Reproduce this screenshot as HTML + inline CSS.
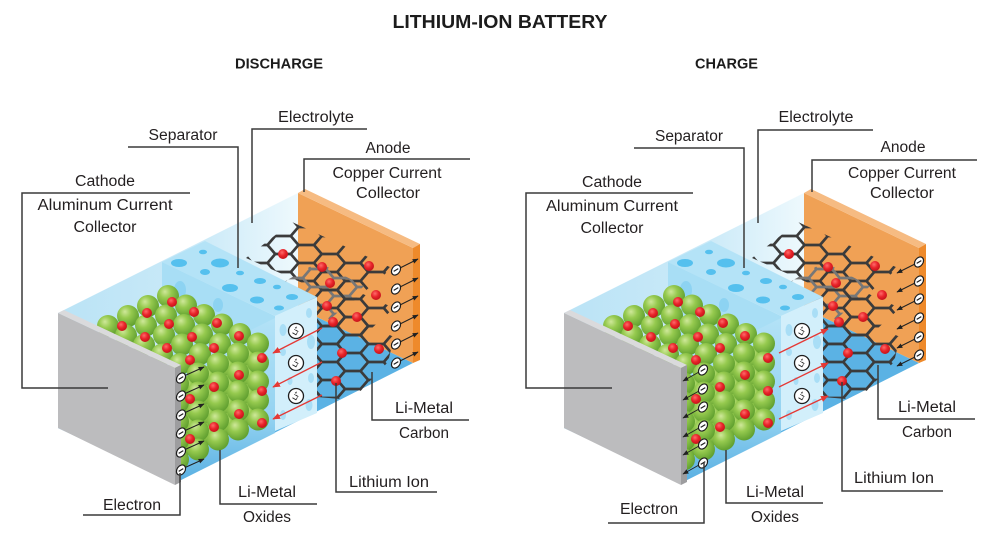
<!DOCTYPE html>
<html>
<head>
<meta charset="utf-8">
<style>
  html,body{margin:0;padding:0;background:#fff;}
  svg{display:block;}
  .lbl{font-family:"Liberation Sans",Arial,sans-serif;font-size:15.5px;fill:#231f20;text-anchor:middle;}
  .hd{font-family:"Liberation Sans",Arial,sans-serif;font-weight:bold;fill:#1c1c1c;text-anchor:middle;}
  .ld{fill:none;stroke:#3a3a3a;stroke-width:1.5;}
</style>
</head>
<body>
<svg width="1000" height="555" viewBox="0 0 1000 555" xmlns="http://www.w3.org/2000/svg">
<defs>
  <linearGradient id="gWall" gradientUnits="userSpaceOnUse" x1="58" y1="0" x2="298" y2="0">
    <stop offset="0" stop-color="#bae3f6"/>
    <stop offset="0.6" stop-color="#cbeaf8"/>
    <stop offset="1" stop-color="#eef9fd"/>
  </linearGradient>
  <linearGradient id="gRF" x1="0" y1="0" x2="0" y2="1">
    <stop offset="0" stop-color="#b3e2f7"/>
    <stop offset="0.6" stop-color="#94d3f1"/>
    <stop offset="1" stop-color="#58afe2"/>
  </linearGradient>
  <radialGradient id="gBall" cx="0.4" cy="0.36" r="0.68" fx="0.36" fy="0.3">
    <stop offset="0" stop-color="#cfe89a"/>
    <stop offset="0.4" stop-color="#96ca4f"/>
    <stop offset="1" stop-color="#5c9c2d"/>
  </radialGradient>
  <radialGradient id="gRed" cx="0.4" cy="0.35" r="0.7">
    <stop offset="0" stop-color="#ff6a6a"/>
    <stop offset="0.5" stop-color="#e8242a"/>
    <stop offset="1" stop-color="#c01018"/>
  </radialGradient>
  <pattern id="hexD" patternUnits="userSpaceOnUse" width="46.5" height="18" x="4" y="2">
    <path d="M0,0H7.75L15.5,9L7.75,18H0M15.5,9H31L38.75,0H46.5M31,9L38.75,18H46.5" fill="none" stroke="#3b3b3b" stroke-width="2.7"/>
  </pattern>
  <pattern id="hexG" patternUnits="userSpaceOnUse" width="46.5" height="18" x="16" y="8">
    <path d="M0,0H7.75L15.5,9L7.75,18H0M15.5,9H31L38.75,0H46.5M31,9L38.75,18H46.5" fill="none" stroke="#777" stroke-width="2.7"/>
  </pattern>
  <marker id="ak" viewBox="0 0 10 10" refX="9" refY="5" markerWidth="6" markerHeight="6" orient="auto">
    <path d="M0,1 L10,5 L0,9 z" fill="#222"/>
  </marker>
  <marker id="ar" viewBox="0 0 10 10" refX="9" refY="5" markerWidth="6" markerHeight="6" orient="auto">
    <path d="M0,1 L10,5 L0,9 z" fill="#e53935"/>
  </marker>
  <circle id="b" r="11" fill="url(#gBall)"/>
  <circle id="r" r="5" fill="url(#gRed)"/>
  <g id="el">
    <ellipse rx="4" ry="5.5" fill="#fff" stroke="#1e1e1e" stroke-width="1.2" transform="rotate(35)"/>
    <line x1="-2.3" y1="1.4" x2="2.3" y2="-1.4" stroke="#1e1e1e" stroke-width="1.2"/>
  </g>
  <g id="li">
    <circle r="7.5" fill="#fff" stroke="#1e1e1e" stroke-width="1.3"/>
    <text transform="rotate(-60)" x="0" y="2.3" text-anchor="middle" font-family="Liberation Sans, Arial, sans-serif" font-size="6.5" font-weight="bold" fill="#1e1e1e">Li<tspan font-size="4.5" dy="-2.5">+</tspan></text>
  </g>

  <g id="core">
    <!-- left inner wall -->
    <polygon points="58,313 298,193 298,308 58,428" fill="url(#gWall)"/>
    <!-- floor -->
    <polygon points="58,428 298,308 413,363 175,483" fill="#5bb2e4"/>
    <!-- orange copper collector -->
    <polygon points="298,193 413,248 413,363 298,308" fill="#f0a155"/>
    <polygon points="298,193 305,189 420,244 413,248" fill="#f6bb82"/>
    <polygon points="413,248 420,244 420,360 413,363" fill="#ee8a2b"/>
    <!-- graphene sheets -->
    <polygon points="246,258 292,222 392,268 350,304" fill="url(#hexD)"/>
    <polygon points="284,282 318,262 364,286 330,320" fill="url(#hexG)"/>
    <polygon points="303,300 334,281 394,308 350,348 317,342" fill="url(#hexD)"/>
    <polygon points="317,328 346,315 394,337 388,362 352,400 317,397" fill="url(#hexD)"/>
    <!-- anode Li dots -->
    <use href="#r" x="283" y="254"/><use href="#r" x="322" y="267"/><use href="#r" x="369" y="266"/>
    <use href="#r" x="330" y="283"/><use href="#r" x="376" y="295"/><use href="#r" x="327" y="306"/>
    <use href="#r" x="357" y="317"/><use href="#r" x="333" y="322"/><use href="#r" x="342" y="353"/>
    <use href="#r" x="379" y="349"/><use href="#r" x="336" y="381"/>
    <!-- separator -->
    <polygon points="162,262 275,316 275,431 162,377" fill="#a8def5"/>
    <polygon points="162,262 205,241 317,297 275,316" fill="#b4e3f7"/>
    <polygon points="275,316 317,297 317,413 275,431" fill="#d2effb"/>
    <g fill="#55c0ee">
      <ellipse cx="179" cy="263" rx="8" ry="4"/>
      <ellipse cx="203" cy="252" rx="4" ry="2.3"/>
      <ellipse cx="220" cy="263" rx="9" ry="4.5"/>
      <ellipse cx="205" cy="272" rx="5" ry="3"/>
      <ellipse cx="240" cy="273" rx="4" ry="2.3"/>
      <ellipse cx="230" cy="288" rx="8" ry="4"/>
      <ellipse cx="260" cy="281" rx="6" ry="3"/>
      <ellipse cx="257" cy="300" rx="7" ry="3.5"/>
      <ellipse cx="277" cy="287" rx="4" ry="2.3"/>
      <ellipse cx="279" cy="308" rx="5" ry="2.5"/>
      <ellipse cx="292" cy="297" rx="6" ry="3"/>
    </g>
    <g fill="#8dd3f2">
      <ellipse cx="180" cy="290" rx="6" ry="9"/>
      <ellipse cx="218" cy="305" rx="5" ry="7"/>
    </g>
    <g fill="#a9def6">
      <ellipse cx="283" cy="330" rx="3.5" ry="6"/>
      <ellipse cx="309" cy="313" rx="3" ry="5"/>
      <ellipse cx="283" cy="352" rx="3" ry="4"/>
      <ellipse cx="311" cy="342" rx="4" ry="7"/>
      <ellipse cx="311" cy="378" rx="3" ry="5"/>
      <ellipse cx="290" cy="381" rx="2.5" ry="4"/>
      <ellipse cx="283" cy="415" rx="3" ry="5"/>
      <ellipse cx="309" cy="405" rx="3.5" ry="6"/>
    </g>
    <!-- cathode right face -->
    <polygon points="175,368 275,318 275,433 175,483" fill="url(#gRF)"/>
    <!-- balls: top layer -->
    <use href="#b" x="168" y="296"/><use href="#b" x="186" y="305.5"/><use href="#b" x="204" y="315"/><use href="#b" x="222" y="324.5"/><use href="#b" x="240" y="334"/>
    <use href="#b" x="148" y="306"/><use href="#b" x="166" y="315.5"/><use href="#b" x="184" y="325"/><use href="#b" x="202" y="334.5"/><use href="#b" x="220" y="344"/>
    <use href="#b" x="128" y="316"/><use href="#b" x="146" y="325.5"/><use href="#b" x="164" y="335"/><use href="#b" x="182" y="344.5"/><use href="#b" x="200" y="354"/>
    <use href="#b" x="108" y="326"/><use href="#b" x="126" y="335.5"/><use href="#b" x="144" y="345"/><use href="#b" x="162" y="354.5"/><use href="#b" x="180" y="364"/>
    <!-- filler -->
    <use href="#b" x="248" y="357"/><use href="#b" x="248" y="376"/><use href="#b" x="248" y="395"/><use href="#b" x="248" y="414"/>
    <use href="#b" x="228" y="367"/><use href="#b" x="228" y="386"/><use href="#b" x="228" y="405"/><use href="#b" x="228" y="424"/>
    <use href="#b" x="208" y="377"/><use href="#b" x="208" y="396"/><use href="#b" x="208" y="415"/><use href="#b" x="208" y="434"/>
    <use href="#b" x="188" y="387"/><use href="#b" x="188" y="406"/><use href="#b" x="188" y="425"/><use href="#b" x="188" y="444"/>
    <!-- right face balls -->
    <use href="#b" x="258" y="343.5"/><use href="#b" x="258" y="362.5"/><use href="#b" x="258" y="381.5"/><use href="#b" x="258" y="400.5"/><use href="#b" x="258" y="419.5"/>
    <use href="#b" x="238" y="353.5"/><use href="#b" x="238" y="372.5"/><use href="#b" x="238" y="391.5"/><use href="#b" x="238" y="410.5"/><use href="#b" x="238" y="429.5"/>
    <use href="#b" x="218" y="363.5"/><use href="#b" x="218" y="382.5"/><use href="#b" x="218" y="401.5"/><use href="#b" x="218" y="420.5"/><use href="#b" x="218" y="439.5"/>
    <use href="#b" x="198" y="373.5"/><use href="#b" x="198" y="392.5"/><use href="#b" x="198" y="411.5"/><use href="#b" x="198" y="430.5"/><use href="#b" x="198" y="449.5"/>
    <use href="#b" x="178" y="383.5"/><use href="#b" x="178" y="402.5"/><use href="#b" x="178" y="421.5"/><use href="#b" x="178" y="440.5"/><use href="#b" x="178" y="459.5"/>
    <!-- cathode red dots -->
    <use href="#r" x="172" y="302"/><use href="#r" x="147" y="313"/><use href="#r" x="194" y="312"/>
    <use href="#r" x="122" y="326"/><use href="#r" x="169" y="324"/><use href="#r" x="217" y="323"/>
    <use href="#r" x="145" y="337"/><use href="#r" x="192" y="337"/><use href="#r" x="239" y="336"/>
    <use href="#r" x="167" y="348"/><use href="#r" x="214" y="348"/><use href="#r" x="190" y="360"/>
    <use href="#r" x="262" y="358"/><use href="#r" x="239" y="375"/><use href="#r" x="214" y="387"/>
    <use href="#r" x="262" y="391"/><use href="#r" x="190" y="399"/><use href="#r" x="239" y="414"/>
    <use href="#r" x="214" y="427"/><use href="#r" x="262" y="423"/><use href="#r" x="190" y="439"/>
    <!-- aluminum plate -->
    <polygon points="58,313 175,368 175,485 58,428" fill="#bcbcbe"/>
    <polygon points="58,313 64,310 181,365 175,368" fill="#dadadc"/>
    <polygon points="175,368 181,365 181,482 175,485" fill="#9d9d9f"/>
    <!-- Li+ labels -->
    <use href="#li" x="296" y="331"/>
    <use href="#li" x="296" y="363"/>
    <use href="#li" x="296" y="396"/>
  </g>
</defs>

<rect width="1000" height="555" fill="#fff"/>

<!-- titles -->
<text class="hd" x="500" y="28" font-size="18.5" textLength="215" lengthAdjust="spacingAndGlyphs">LITHIUM-ION BATTERY</text>
<text class="hd" x="279" y="68.5" font-size="14.5" textLength="88" lengthAdjust="spacingAndGlyphs">DISCHARGE</text>
<text class="hd" x="726.5" y="68.5" font-size="14.5" textLength="63" lengthAdjust="spacingAndGlyphs">CHARGE</text>

<!-- batteries -->
<use href="#core"/>
<use href="#core" x="506"/>

<!-- LEFT (discharge) arrows -->
<g stroke="#e53935" stroke-width="1.3" marker-end="url(#ar)">
  <line x1="322" y1="328" x2="273" y2="353"/>
  <line x1="322" y1="362" x2="273" y2="387"/>
  <line x1="322" y1="395" x2="273" y2="419"/>
</g>
<g stroke="#222" stroke-width="1" marker-end="url(#ak)">
  <line x1="184" y1="376" x2="204" y2="367"/>
  <line x1="184" y1="394" x2="204" y2="385"/>
  <line x1="184" y1="413" x2="204" y2="404"/>
  <line x1="184" y1="431" x2="204" y2="422"/>
  <line x1="184" y1="450" x2="204" y2="441"/>
  <line x1="184" y1="468" x2="204" y2="459"/>
  <line x1="400" y1="268" x2="418" y2="259"/>
  <line x1="400" y1="287" x2="418" y2="278"/>
  <line x1="400" y1="305" x2="418" y2="296"/>
  <line x1="400" y1="324" x2="418" y2="315"/>
  <line x1="400" y1="342" x2="418" y2="333"/>
  <line x1="400" y1="361" x2="418" y2="352"/>
</g>
<use href="#el" x="181" y="378"/><use href="#el" x="181" y="396"/><use href="#el" x="181" y="415"/>
<use href="#el" x="181" y="433"/><use href="#el" x="181" y="452"/><use href="#el" x="181" y="470"/>
<use href="#el" x="396" y="270"/><use href="#el" x="396" y="289"/><use href="#el" x="396" y="307"/>
<use href="#el" x="396" y="326"/><use href="#el" x="396" y="344"/><use href="#el" x="396" y="363"/>

<!-- RIGHT (charge) arrows -->
<g stroke="#e53935" stroke-width="1.3" marker-end="url(#ar)">
  <line x1="779" y1="353" x2="828" y2="329"/>
  <line x1="779" y1="387" x2="828" y2="363"/>
  <line x1="779" y1="419" x2="828" y2="396"/>
</g>
<g stroke="#222" stroke-width="1" marker-end="url(#ak)">
  <line x1="699" y1="372" x2="683" y2="381"/>
  <line x1="699" y1="391" x2="683" y2="400"/>
  <line x1="699" y1="409" x2="683" y2="418"/>
  <line x1="699" y1="428" x2="683" y2="437"/>
  <line x1="699" y1="446" x2="683" y2="455"/>
  <line x1="699" y1="465" x2="683" y2="474"/>
  <line x1="915" y1="264" x2="897" y2="273"/>
  <line x1="915" y1="283" x2="897" y2="292"/>
  <line x1="915" y1="301" x2="897" y2="310"/>
  <line x1="915" y1="320" x2="897" y2="329"/>
  <line x1="915" y1="339" x2="897" y2="348"/>
  <line x1="915" y1="357" x2="897" y2="366"/>
</g>
<use href="#el" x="703" y="370"/><use href="#el" x="703" y="389"/><use href="#el" x="703" y="407"/>
<use href="#el" x="703" y="426"/><use href="#el" x="703" y="444"/><use href="#el" x="703" y="463"/>
<use href="#el" x="919" y="262"/><use href="#el" x="919" y="281"/><use href="#el" x="919" y="299"/>
<use href="#el" x="919" y="318"/><use href="#el" x="919" y="337"/><use href="#el" x="919" y="355"/>

<!-- LEFT leader lines -->
<polyline class="ld" points="108,388 22,388 22,193 190,193"/>
<polyline class="ld" points="128,147 238,147 238,268"/>
<polyline class="ld" points="367,129 252,129 252,223"/>
<polyline class="ld" points="470,159 304,159 304,192"/>
<polyline class="ld" points="372,372 372,420 469,420"/>
<polyline class="ld" points="336,383 336,492 437,492"/>
<polyline class="ld" points="220,450 220,504 317,504"/>
<polyline class="ld" points="180,473 180,515 83,515"/>

<!-- RIGHT leader lines -->
<polyline class="ld" points="612,388 526,388 526,193 693,193"/>
<polyline class="ld" points="634,148 744,148 744,268"/>
<polyline class="ld" points="873,130 758,130 758,223"/>
<polyline class="ld" points="977,160 812,160 812,192"/>
<polyline class="ld" points="878,365 878,419 975,419"/>
<polyline class="ld" points="842,382 842,491 943,491"/>
<polyline class="ld" points="726,450 726,503 823,503"/>
<polyline class="ld" points="704,463 704,523 608,523"/>

<!-- LEFT labels -->
<text class="lbl" x="105" y="186" textLength="60" lengthAdjust="spacingAndGlyphs">Cathode</text>
<text class="lbl" x="105" y="210" textLength="135" lengthAdjust="spacingAndGlyphs">Aluminum Current</text>
<text class="lbl" x="105" y="232" textLength="63" lengthAdjust="spacingAndGlyphs">Collector</text>
<text class="lbl" x="183" y="140" textLength="69" lengthAdjust="spacingAndGlyphs">Separator</text>
<text class="lbl" x="316" y="122" textLength="76" lengthAdjust="spacingAndGlyphs">Electrolyte</text>
<text class="lbl" x="388" y="153" textLength="45" lengthAdjust="spacingAndGlyphs">Anode</text>
<text class="lbl" x="387" y="178" textLength="109" lengthAdjust="spacingAndGlyphs">Copper Current</text>
<text class="lbl" x="388" y="198" textLength="64" lengthAdjust="spacingAndGlyphs">Collector</text>
<text class="lbl" x="424" y="413" textLength="58" lengthAdjust="spacingAndGlyphs">Li-Metal</text>
<text class="lbl" x="424" y="438" textLength="50" lengthAdjust="spacingAndGlyphs">Carbon</text>
<text class="lbl" x="389" y="487" textLength="80" lengthAdjust="spacingAndGlyphs">Lithium Ion</text>
<text class="lbl" x="267" y="497" textLength="58" lengthAdjust="spacingAndGlyphs">Li-Metal</text>
<text class="lbl" x="267" y="522" textLength="48" lengthAdjust="spacingAndGlyphs">Oxides</text>
<text class="lbl" x="132" y="510" textLength="58" lengthAdjust="spacingAndGlyphs">Electron</text>

<!-- RIGHT labels -->
<text class="lbl" x="612" y="187" textLength="60" lengthAdjust="spacingAndGlyphs">Cathode</text>
<text class="lbl" x="612" y="211" textLength="132" lengthAdjust="spacingAndGlyphs">Aluminum Current</text>
<text class="lbl" x="612" y="233" textLength="63" lengthAdjust="spacingAndGlyphs">Collector</text>
<text class="lbl" x="689" y="141" textLength="68" lengthAdjust="spacingAndGlyphs">Separator</text>
<text class="lbl" x="816" y="122" textLength="75" lengthAdjust="spacingAndGlyphs">Electrolyte</text>
<text class="lbl" x="903" y="152" textLength="45" lengthAdjust="spacingAndGlyphs">Anode</text>
<text class="lbl" x="902" y="178" textLength="108" lengthAdjust="spacingAndGlyphs">Copper Current</text>
<text class="lbl" x="902" y="198" textLength="64" lengthAdjust="spacingAndGlyphs">Collector</text>
<text class="lbl" x="927" y="412" textLength="58" lengthAdjust="spacingAndGlyphs">Li-Metal</text>
<text class="lbl" x="927" y="437" textLength="50" lengthAdjust="spacingAndGlyphs">Carbon</text>
<text class="lbl" x="894" y="483" textLength="80" lengthAdjust="spacingAndGlyphs">Lithium Ion</text>
<text class="lbl" x="775" y="497" textLength="58" lengthAdjust="spacingAndGlyphs">Li-Metal</text>
<text class="lbl" x="775" y="522" textLength="48" lengthAdjust="spacingAndGlyphs">Oxides</text>
<text class="lbl" x="649" y="514" textLength="58" lengthAdjust="spacingAndGlyphs">Electron</text>
</svg>
</body>
</html>
